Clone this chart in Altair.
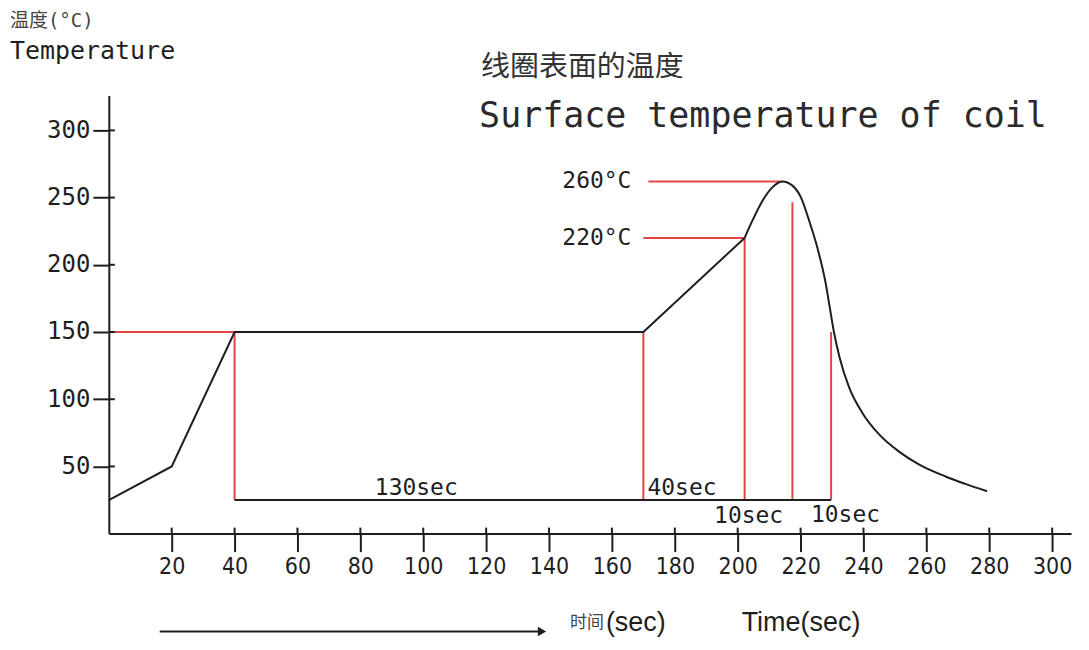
import altair as alt
import pandas as pd

# ---- data ----
# soldering profile: straight part (time s, temperature degC)
ramp_t = [0, 20, 40, 170, 202.2]
ramp_v = [25, 50, 150, 150, 220]
# smooth peak and cooling part
peak_t = [202.2, 204.7, 207.9, 211, 214.2, 217.4, 220.1, 222.7, 225.3, 228, 229.3,
          230.6, 232.4, 235.4, 239.6, 244.9, 251.3, 257.6, 266.1, 272.4, 279.3]
peak_v = [220, 233, 247.7, 257.6, 262, 258.9, 250.2, 233, 213, 186, 168,
          150, 131, 109, 90, 74, 61, 51.5, 42.5, 37, 31.5]

# red guide segments (start / end)
red_x1 = [0, 40, 170, 170, 202.2, 171.6, 217.4, 229.7]
red_y1 = [150, 150, 150, 220, 220, 262, 246.5, 150]
red_x2 = [40, 40, 170, 202.2, 202.2, 214.2, 217.4, 229.7]
red_y2 = [150, 25, 25, 220, 25, 262, 25, 25]

# black base line of the time spans
base_x1 = [40]
base_x2 = [229.7]
base_y = [25]

# span labels
span_text = ["130sec", "40sec", "10sec", "10sec"]
span_x = [84.6, 171.3, 192.5, 223.3]
span_y = [28.6, 28.6, 7.8, 8.5]

# temperature labels
temp_text = ["260°C", "220°C"]
temp_x = [166.2, 166.2]
temp_y = [262, 220]

x_ticks = [20, 40, 60, 80, 100, 120, 140, 160, 180, 200, 220, 240, 260, 280, 300]
y_ticks = [50, 100, 150, 200, 250, 300]

# ---- styling ----
INK = "#1e1e1e"
RED = "#e34545"
MONO = "DejaVu Sans Mono"
COND = "DejaVu Sans Condensed"
CJK = "Noto Sans CJK SC"
W, H = 964, 439

xs = alt.Scale(domain=[0, 306], nice=False, zero=False)
ys = alt.Scale(domain=[0, 326], nice=False, zero=False)

xa = alt.Axis(values=x_ticks, title=None, grid=False, domainColor=INK, domainWidth=2,
              tickColor=INK, tickWidth=2, tickSize=18, labelFont=COND,
              labelFontSize=23, labelColor=INK, labelPadding=4, labelFlush=False,
              labelOverlap=False, labelBound=False)
ya = alt.Axis(values=y_ticks, title=None, grid=False, domainColor=INK, domainWidth=2,
              tickColor=INK, tickWidth=2, tickSize=16, labelFont=MONO,
              labelFontSize=24, labelColor=INK, labelPadding=3, labelOverlap=False)

ramp = alt.Chart(pd.DataFrame({"t": ramp_t, "v": ramp_v})).mark_line(
    color=INK, strokeWidth=2).encode(
    x=alt.X("t:Q", scale=xs, axis=xa), y=alt.Y("v:Q", scale=ys, axis=ya))

peak = alt.Chart(pd.DataFrame({"t": peak_t, "v": peak_v})).mark_line(
    color=INK, strokeWidth=2, interpolate="monotone").encode(
    x=alt.X("t:Q", scale=xs, axis=xa), y=alt.Y("v:Q", scale=ys, axis=ya))

red = alt.Chart(pd.DataFrame({"x1": red_x1, "y1": red_y1, "x2": red_x2, "y2": red_y2})).mark_rule(
    color=RED, strokeWidth=2).encode(
    x=alt.X("x1:Q", scale=xs, axis=xa), y=alt.Y("y1:Q", scale=ys, axis=ya),
    x2="x2:Q", y2="y2:Q")

base = alt.Chart(pd.DataFrame({"x1": base_x1, "x2": base_x2, "y": base_y})).mark_rule(
    color=INK, strokeWidth=2).encode(
    x=alt.X("x1:Q", scale=xs, axis=xa), x2="x2:Q", y=alt.Y("y:Q", scale=ys, axis=ya))

# inner halves of the axis ticks (ticks cross the axis line)
xin = alt.Chart(pd.DataFrame({"t": x_ticks})).mark_rule(color=INK, strokeWidth=2).encode(
    x=alt.X("t:Q", scale=xs, axis=xa), y=alt.value(H - 6), y2=alt.value(H))
yin = alt.Chart(pd.DataFrame({"v": y_ticks})).mark_rule(color=INK, strokeWidth=2).encode(
    y=alt.Y("v:Q", scale=ys, axis=ya), x=alt.value(0), x2=alt.value(6))

spans = alt.Chart(pd.DataFrame({"s": span_text, "x": span_x, "y": span_y})).mark_text(
    align="left", baseline="alphabetic", font=MONO, fontSize=23, color=INK).encode(
    x=alt.X("x:Q", scale=xs, axis=xa), y=alt.Y("y:Q", scale=ys, axis=ya), text="s:N")

temps = alt.Chart(pd.DataFrame({"s": temp_text, "x": temp_x, "y": temp_y})).mark_text(
    align="right", baseline="middle", font=MONO, fontSize=23, color=INK).encode(
    x=alt.X("x:Q", scale=xs, axis=xa), y=alt.Y("y:Q", scale=ys, axis=ya), text="s:N")


def label(txt, px, py, size, font, align="left", baseline="middle", color=INK):
    return alt.Chart(pd.DataFrame({"s": [txt]})).mark_text(
        align=align, baseline=baseline, font=font, fontSize=size, color=color).encode(
        text="s:N", x=alt.value(px), y=alt.value(py))


t1 = label("温度(°C)", -99, -75, 19, f"{MONO}, {CJK}", color="#444")
t2 = label("Temperature", -99, -44, 25, MONO)
t3 = label("线圈表面的温度", 373, -28, 29, CJK, color="#333")
t4 = label("Surface temperature of coil", 371, 32, 35, MONO, baseline="alphabetic", color="#2a2a2a")
b1 = label("时间", 462, 529, 17, CJK, color="#444")
b2 = label("(sec)", 498, 529, 27, "Liberation Sans")
b3 = label("Time(sec)", 634, 529, 27, "Liberation Sans")

arrow_line = alt.Chart(pd.DataFrame({"s": ["arrow"]})).mark_rule(color=INK, strokeWidth=2).encode(
    x=alt.value(51), x2=alt.value(432), y=alt.value(537))
arrow_head = alt.Chart(pd.DataFrame({"s": ["arrow"]})).mark_point(
    shape="triangle-right", filled=True, color=INK, size=90, opacity=1).encode(
    x=alt.value(434), y=alt.value(537))

chart = alt.layer(
    red, base, ramp, peak, xin, yin, spans, temps,
    t1, t2, t3, t4, b1, b2, b3, arrow_line, arrow_head
).properties(
    width=W, height=H,
    background="white",
    padding={"left": 101, "top": 87, "right": 10, "bottom": 112},
    autosize=alt.AutoSizeParams(type="none"),
).configure_view(strokeWidth=0, stroke="transparent")

chart.save("out.html", embed_options={"renderer": "svg", "actions": False})
